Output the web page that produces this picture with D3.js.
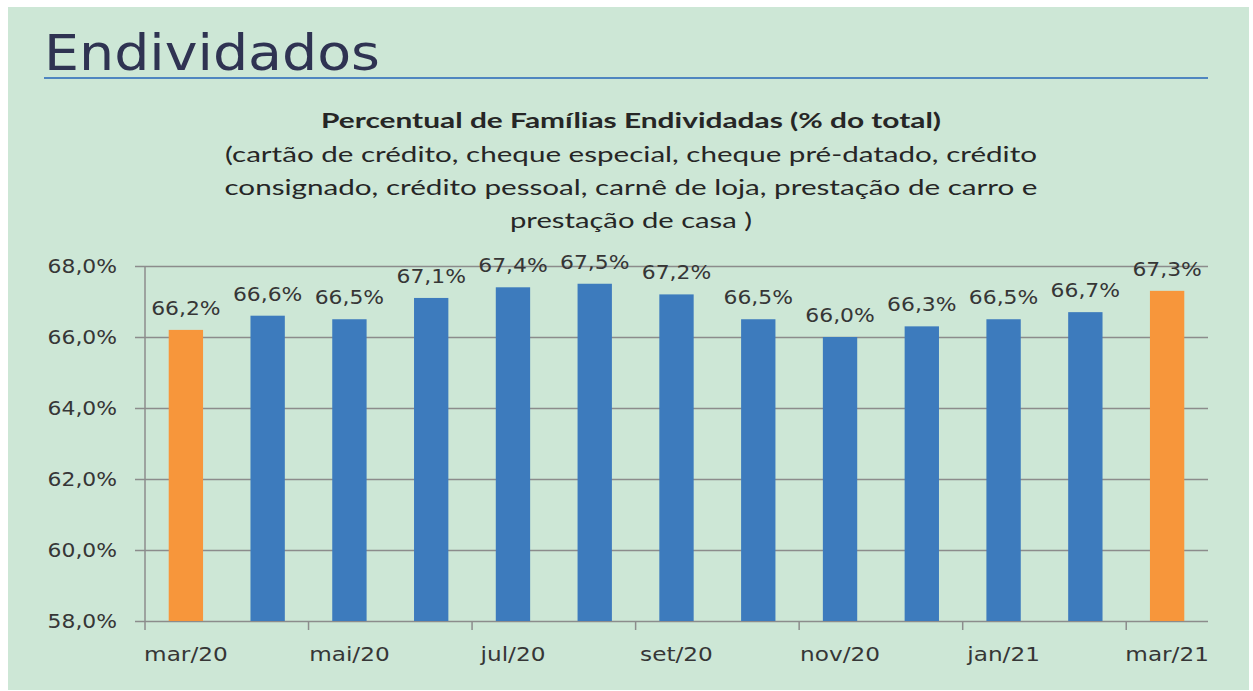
<!DOCTYPE html>
<html>
<head>
<meta charset="utf-8">
<script src="https://cdn.jsdelivr.net/npm/d3@7"></script>
<style>
  html, body { margin: 0; padding: 0; background: #fff; }
  svg { display: block; }
</style>
</head>
<body>
<div id="chart"></div>
<script>
// months shown on the chart
var months = ["mar/20", "abr/20", "mai/20", "jun/20", "jul/20", "ago/20", "set/20",
	"out/20", "nov/20", "dez/20", "jan/21", "fev/21", "mar/21"];
// % of indebted families
var values = [66.2, 66.6, 66.5, 67.1, 67.4, 67.5, 67.2, 66.5, 66.0, 66.3, 66.5, 66.7, 67.3];
// bars drawn in orange
var highlighted = ["mar/20", "mar/21"];
var yTicks = [58, 60, 62, 64, 66, 68];
var pageTitle = "Endividados";
var chartTitle = "Percentual de Famílias Endividadas (% do total)";
var subtitleLines = [
	"(cartão de crédito, cheque especial, cheque pré-datado, crédito",
	"consignado, crédito pessoal, carnê de loja, prestação de carro e",
	"prestação de casa )"
];

var width = 1253, height = 691;
var plot = { left: 145, right: 1208, top: 266, bottom: 621 };
var fmt = function(v) { return d3.format(".1f")(v).replace(".", ",") + "%"; };

// widen glyphs horizontally like the source picture
function stretch(sel, factor) {
	sel.each(function() {
		var len = this.getComputedTextLength();
		d3.select(this)
			.attr("textLength", len * factor)
			.attr("lengthAdjust", "spacingAndGlyphs");
	});
}

var svg = d3.select("#chart").append("svg")
	.attr("width", width)
	.attr("height", height);

// green panel
svg.append("rect")
	.attr("x", 8).attr("y", 7)
	.attr("width", 1241).attr("height", 683)
	.attr("fill", "#cde7d6");

// page title + rule
svg.append("text")
	.attr("x", 44).attr("y", 70)
	.attr("font-family", "DejaVu Sans")
	.attr("font-size", 50)
	.attr("fill", "#2f3352")
	.attr("textLength", 336)
	.attr("lengthAdjust", "spacingAndGlyphs")
	.text(pageTitle);

svg.append("line")
	.attr("x1", 44).attr("x2", 1208)
	.attr("y1", 78).attr("y2", 78)
	.attr("stroke", "#4f86c0")
	.attr("stroke-width", 2);

// chart title
var cx = 631;
svg.append("text")
	.attr("x", cx).attr("y", 128)
	.attr("text-anchor", "middle")
	.attr("font-family", "Lato")
	.attr("font-weight", "bold")
	.attr("font-size", 21)
	.attr("fill", "#262626")
	.attr("textLength", 620)
	.attr("lengthAdjust", "spacingAndGlyphs")
	.text(chartTitle);

var subWidths = [812, 813, 242];
svg.selectAll("text.sub")
	.data(subtitleLines)
	.join("text")
	.attr("class", "sub")
	.attr("x", cx)
	.attr("y", (d, i) => 162 + i * 33)
	.attr("text-anchor", "middle")
	.attr("font-family", "Lato")
	.attr("font-size", 21)
	.attr("fill", "#262626")
	.attr("textLength", (d, i) => subWidths[i])
	.attr("lengthAdjust", "spacingAndGlyphs")
	.text(d => d);

// scales
var x = d3.scaleBand()
	.domain(months)
	.range([plot.left, plot.right])
	.paddingInner(0.58)
	.paddingOuter(0.29);

var y = d3.scaleLinear()
	.domain([58, 68])
	.range([plot.bottom, plot.top]);

var gridColor = "#8c8c8c";
var labelColor = "#363636";

// y axis with gridlines
var yAxis = svg.append("g")
	.attr("transform", "translate(" + plot.left + ",0)")
	.call(d3.axisLeft(y)
		.tickValues(yTicks)
		.tickFormat(fmt)
		.tickSize(-(plot.right - plot.left))
		.tickPadding(28));
yAxis.select(".domain").remove();
yAxis.selectAll(".tick line")
	.attr("x1", -10)
	.attr("stroke", gridColor)
	.attr("stroke-width", 1.5);
yAxis.selectAll(".tick text")
	.attr("font-family", "DejaVu Sans")
	.attr("font-size", 19)
	.attr("fill", labelColor)
	.call(stretch, 1.15);

svg.append("line")
	.attr("x1", plot.left).attr("x2", plot.left)
	.attr("y1", plot.top).attr("y2", plot.bottom)
	.attr("stroke", gridColor)
	.attr("stroke-width", 1.5);

// x axis: tick every second month boundary
var step = x.step();
var boundaries = d3.range(0, months.length, 2).map(i => plot.left + i * step);
svg.selectAll("line.xtick")
	.data(boundaries)
	.join("line")
	.attr("class", "xtick")
	.attr("x1", d => d).attr("x2", d => d)
	.attr("y1", plot.bottom).attr("y2", plot.bottom + 9)
	.attr("stroke", gridColor)
	.attr("stroke-width", 1.5);

svg.selectAll("text.xlabel")
	.data(months.filter((d, i) => i % 2 == 0))
	.join("text")
	.attr("class", "xlabel")
	.attr("x", d => x(d) + x.bandwidth() / 2)
	.attr("y", 661)
	.attr("text-anchor", "middle")
	.attr("font-family", "DejaVu Sans")
	.attr("font-size", 19)
	.attr("fill", labelColor)
	.text(d => d)
	.call(stretch, 1.22);

// bars
var data = months.map((m, i) => ({ month: m, value: values[i] }));

svg.selectAll("rect.bar")
	.data(data)
	.join("rect")
	.attr("class", "bar")
	.attr("x", d => x(d.month))
	.attr("y", d => y(d.value))
	.attr("width", x.bandwidth())
	.attr("height", d => y(58) - y(d.value))
	.attr("fill", d => highlighted.indexOf(d.month) >= 0 ? "#f7963b" : "#3d7bbd");

// value labels
svg.selectAll("text.val")
	.data(data)
	.join("text")
	.attr("class", "val")
	.attr("x", d => x(d.month) + x.bandwidth() / 2)
	.attr("y", d => y(d.value) - 15)
	.attr("text-anchor", "middle")
	.attr("font-family", "DejaVu Sans")
	.attr("font-size", 19)
	.attr("fill", labelColor)
	.text(d => fmt(d.value))
	.call(stretch, 1.15);
</script>
</body>
</html>
